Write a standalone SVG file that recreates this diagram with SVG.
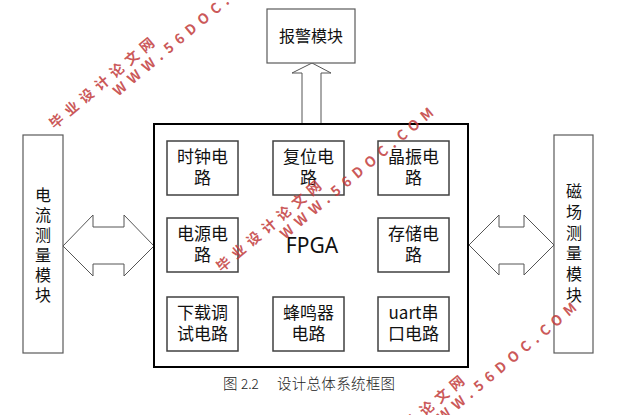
<svg xmlns="http://www.w3.org/2000/svg" width="628" height="415" viewBox="0 0 628 415">
<style>
.t{font-family:"Noto Sans CJK SC","Noto Sans",sans-serif;fill:#111;text-anchor:middle}
.s{font-size:17px}
.m{font-size:16px}
.v{font-family:"Noto Sans CJK SC",sans-serif;fill:#111;font-size:16px;writing-mode:vertical-rl;text-anchor:start}
.box{fill:#fff;stroke:#404040;stroke-width:1.5}
.side{fill:#fff;stroke:#5a5a5a;stroke-width:1.2}
.arr{fill:#fff;stroke:#555;stroke-width:1}
.wm{font-family:"Noto Sans CJK SC","DejaVu Sans",sans-serif;font-weight:bold;fill:#c23b3b;fill-opacity:0.85;text-anchor:middle;font-size:14px}
</style>
<rect width="628" height="415" fill="#fff"/>
<g id="connectors">
<polygon class="arr" points="63,246 93,215 93,227 124,227 124,215 154,246 124,276 124,264 93,264 93,276"/>
<polygon class="arr" points="469,245 499,215 499,227 524,227 524,215 554,245 524,275 524,264 499,264 499,275"/>
<polygon class="arr" points="312,63 331,73 321,73 321,124 302,124 302,73 292,73"/>
</g>
<g id="alarm">
<rect class="side" x="267" y="9" width="88" height="54"/>
<text class="t m" x="311" y="42">报警模块</text>
</g>
<g id="fpga">
<rect x="154" y="124" width="314" height="243" fill="#fff" stroke="#000" stroke-width="2"/>
<text class="t" x="312" y="253" style="font-size:21px;font-family:'Noto Sans','Open Sans',sans-serif">FPGA</text>
</g>
<g id="clock">
<rect class="box" x="167" y="141" width="71" height="54"/>
<text class="t s"><tspan x="202.5" y="162.5">时钟电</tspan><tspan x="202.5" y="184">路</tspan></text>
</g>
<g id="reset">
<rect class="box" x="273" y="141" width="71" height="54"/>
<text class="t s"><tspan x="308.5" y="162.5">复位电</tspan><tspan x="308.5" y="184">路</tspan></text>
</g>
<g id="crystal">
<rect class="box" x="378" y="141" width="71" height="54"/>
<text class="t s"><tspan x="413.5" y="162.5">晶振电</tspan><tspan x="413.5" y="184">路</tspan></text>
</g>
<g id="power">
<rect class="box" x="167" y="218" width="71" height="54"/>
<text class="t s"><tspan x="202.5" y="239.5">电源电</tspan><tspan x="202.5" y="261">路</tspan></text>
</g>
<g id="storage">
<rect class="box" x="378" y="218" width="71" height="54"/>
<text class="t s"><tspan x="413.5" y="239.5">存储电</tspan><tspan x="413.5" y="261">路</tspan></text>
</g>
<g id="download">
<rect class="box" x="167" y="297" width="71" height="54"/>
<text class="t s"><tspan x="202.5" y="318.5">下载调</tspan><tspan x="202.5" y="340">试电路</tspan></text>
</g>
<g id="buzzer">
<rect class="box" x="273" y="297" width="71" height="54"/>
<text class="t s"><tspan x="308.5" y="318.5">蜂鸣器</tspan><tspan x="308.5" y="340">电路</tspan></text>
</g>
<g id="uart">
<rect class="box" x="378" y="297" width="71" height="54"/>
<text class="t s"><tspan x="413.5" y="318.5">uart串</tspan><tspan x="413.5" y="340">口电路</tspan></text>
</g>
<g id="current">
<rect class="side" x="23" y="135" width="40" height="218"/>
<text class="v" x="43" y="187" letter-spacing="4">电流测量模块</text>
</g>
<g id="magnetic">
<rect class="side" x="554" y="135" width="39" height="218"/>
<text class="v" x="574" y="183" letter-spacing="4.8">磁场测量模块</text>
</g>
<g id="caption" font-family="'Noto Sans CJK SC','Noto Sans',sans-serif" font-size="14.5" font-weight="300" fill="#222">
<text x="223" y="389">图</text>
<text x="241" y="389" font-size="13.5">2.2</text>
<text x="277" y="389" textLength="118" lengthAdjust="spacing">设计总体系统框图</text>
</g>
<g id="watermarks">
<text class="wm" transform="translate(105,87) rotate(-40)" textLength="132" lengthAdjust="spacing">毕业设计论文网</text>
<text class="wm" transform="translate(193,34) rotate(-40)" textLength="195" lengthAdjust="spacing">WWW.56DOC.COM</text>
<text class="wm" transform="translate(272,230) rotate(-40)" textLength="132" lengthAdjust="spacing">毕业设计论文网</text>
<text class="wm" transform="translate(360,177) rotate(-40)" textLength="195" lengthAdjust="spacing">WWW.56DOC.COM</text>
<text class="wm" transform="translate(415,425) rotate(-40)" textLength="132" lengthAdjust="spacing">毕业设计论文网</text>
<text class="wm" transform="translate(503,372) rotate(-40)" textLength="195" lengthAdjust="spacing">WWW.56DOC.COM</text>
</g>
</svg>
